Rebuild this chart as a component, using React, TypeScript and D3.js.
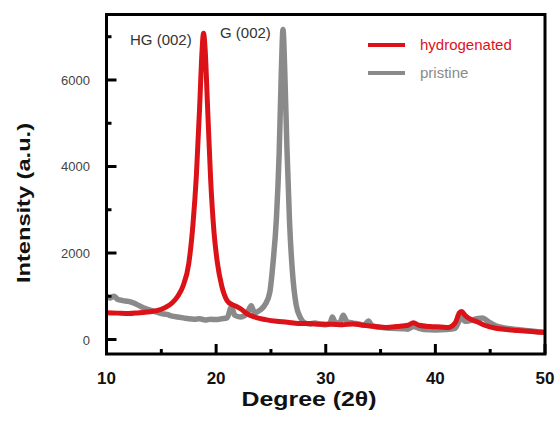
import React from "react";
import * as d3 from "d3";

const W = 556;
const H = 433;

const hydrogenatedX = [10, 11, 12, 13, 14, 15, 15.5, 16, 16.5, 17, 17.5, 17.9, 18.2, 18.5, 18.7, 18.85, 19.0, 19.2, 19.5, 19.8, 20.1, 20.5, 21.0, 21.5, 21.9, 22.3, 22.8, 23.5, 24.5, 25.5, 26.5, 27.5, 28.5, 29.5, 30.5, 31.5, 32.5, 33.5, 34.5, 35.5, 36.5, 37.5, 38, 38.5, 39.5, 40.5, 41.2, 41.8, 42.2, 42.4, 42.7, 43.2, 43.8, 44.5, 45.5, 46.5, 47.5, 48.5, 49.5, 50];
const hydrogenatedY = [620, 610, 600, 620, 640, 700, 760, 850, 1000, 1250, 1750, 2700, 3800, 5400, 6600, 7080, 6700, 5500, 3700, 2500, 1800, 1250, 900, 800, 760, 700, 600, 520, 460, 420, 400, 370, 370, 350, 350, 340, 360, 330, 300, 280, 300, 330, 390, 330, 300, 290, 280, 380, 620, 650, 560, 470, 410, 330, 260, 230, 210, 190, 170, 160];

const pristineX = [10, 10.3, 10.7, 11, 11.5, 12, 12.5, 13, 13.5, 14, 14.5, 15, 15.5, 16, 16.5, 17, 17.5, 18, 18.5, 19, 19.5, 20, 20.5, 21, 21.4, 21.7, 22.2, 22.8, 23.2, 23.5, 24, 24.5, 24.9, 25.2, 25.5, 25.75, 25.95, 26.1, 26.25, 26.45, 26.7, 26.95, 27.3, 27.7, 28, 28.5, 29, 29.5, 30, 30.4, 30.6, 30.9, 31.3, 31.6, 31.9, 32.5, 33, 33.5, 33.9, 34.2, 35, 36, 37, 37.5, 38, 38.5, 39, 40, 41, 41.8, 42.2, 42.4, 42.7, 43.2, 43.8, 44.3, 44.8, 45.5, 46.5, 47.5, 48.5, 49.5, 50];
const pristineY = [1000, 960, 1000, 930, 900, 880, 840, 780, 720, 680, 640, 600, 580, 540, 520, 500, 480, 470, 480, 450, 470, 460, 480, 500, 750, 560, 520, 600, 780, 620, 680, 820, 1100, 1800, 2800, 4300, 6200, 7170, 6300, 4500, 2700, 1600, 800, 500, 400, 360, 380, 360, 340, 380, 520, 380, 400, 560, 420, 380, 360, 330, 430, 320, 280, 260, 250, 240, 300, 260, 230, 220, 230, 260, 450, 530, 420, 440, 480, 500, 420, 320, 260, 230, 200, 180, 170];

const xTicks = [10, 20, 30, 40, 50];
const xMinorTicks = [15, 25, 35, 45];
const yTicks = [0, 2000, 4000, 6000];
const yMinorTicks = [1000, 3000, 5000, 7000];

const seriesNames = ["hydrogenated", "pristine"];
const seriesColors = ["#dc1219", "#8a8a8a"];

const left = 106.5;
const right = 545;
const top = 14.5;
const bottom = 354;

export default function App() {
  const x = d3.scaleLinear().domain([10, 50]).range([left, right]);
  const y = d3.scaleLinear().domain([-335, 7514]).range([bottom, top]);

  const line = d3
    .line<[number, number]>()
    .x((d) => x(d[0]))
    .y((d) => y(d[1]))
    .curve(d3.curveMonotoneX);

  const hyd = hydrogenatedX.map((v, i) => [v, hydrogenatedY[i]] as [number, number]);
  const pri = pristineX.map((v, i) => [v, pristineY[i]] as [number, number]);

  return (
    <svg
      width={W}
      height={H}
      style={{ position: "absolute", left: 0, top: 0, background: "#fff" }}
      fontFamily="Liberation Sans, Arial, sans-serif"
    >
      <defs>
        <clipPath id="plotClip">
          <rect x={left} y={top} width={right - left} height={bottom - top} />
        </clipPath>
      </defs>
      <g clipPath="url(#plotClip)">
        <path d={line(pri) || ""} fill="none" stroke={seriesColors[1]} strokeWidth={5.5} strokeLinejoin="round" />
        <path d={line(hyd) || ""} fill="none" stroke={seriesColors[0]} strokeWidth={5} strokeLinejoin="round" />
      </g>

      {xTicks.map((t) => (
        <line key={"xt" + t} x1={x(t)} x2={x(t)} y1={bottom} y2={bottom - 10} stroke="#000" strokeWidth={3} />
      ))}
      {xMinorTicks.map((t) => (
        <line key={"xm" + t} x1={x(t)} x2={x(t)} y1={bottom} y2={bottom - 5} stroke="#000" strokeWidth={3} />
      ))}
      {yTicks.map((t) => (
        <line key={"yt" + t} x1={left} x2={left + 10} y1={y(t)} y2={y(t)} stroke="#000" strokeWidth={3} />
      ))}
      {yMinorTicks.map((t) => (
        <line key={"ym" + t} x1={left} x2={left + 5} y1={y(t)} y2={y(t)} stroke="#000" strokeWidth={3} />
      ))}

      <rect x={left} y={top} width={right - left} height={bottom - top} fill="none" stroke="#000" strokeWidth={3} />

      {xTicks.map((t) => (
        <text key={"xl" + t} x={x(t)} y={384} textAnchor="middle" fontSize={17} fontWeight="bold" fill="#111">
          {t}
        </text>
      ))}
      {yTicks.map((t) => (
        <text key={"yl" + t} x={90} y={y(t) + 5} textAnchor="end" fontSize={13} fill="#444">
          {t}
        </text>
      ))}

      <text x={309} y={406} textAnchor="middle" fontSize={21} fontWeight="bold" fill="#111" textLength={135} lengthAdjust="spacingAndGlyphs">
        Degree (2θ)
      </text>
      <text
        transform={`translate(30,203) rotate(-90)`}
        textAnchor="middle"
        fontSize={19}
        fontWeight="bold"
        fill="#111"
        textLength={160}
        lengthAdjust="spacingAndGlyphs"
      >
        Intensity (a.u.)
      </text>

      <text x={130} y={45} fontSize={15} fill="#333">HG (002)</text>
      <text x={220} y={38} fontSize={15} fill="#333">G (002)</text>

      {seriesNames.map((n, i) => (
        <g key={n}>
          <line x1={368} x2={405} y1={45 + i * 28} y2={45 + i * 28} stroke={seriesColors[i]} strokeWidth={4} />
          <text x={420} y={50 + i * 28} fontSize={15} fill={seriesColors[i]}>
            {n}
          </text>
        </g>
      ))}
    </svg>
  );
}
